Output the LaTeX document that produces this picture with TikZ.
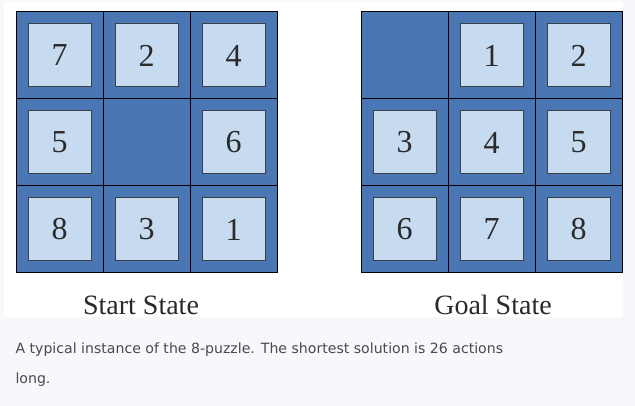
\documentclass[tikz,border=0pt]{standalone}
\usepackage{fontspec}
\setmainfont{Liberation Serif}
\newfontfamily\capfont{DejaVu Sans}
\definecolor{pagebg}{HTML}{F8F8FC}
\definecolor{cellblue}{HTML}{4A77B4}
\definecolor{tileblue}{HTML}{C7DBF0}
\definecolor{tileedge}{HTML}{3A3F48}
\definecolor{captext}{HTML}{4A4A4A}
\definecolor{digittext}{HTML}{2A2A2A}
\tikzset{
  cell/.style={draw=black, line width=1pt, fill=cellblue,
    minimum size=87pt, inner sep=0pt},
  tile/.style={draw=tileedge, line width=1pt, fill=tileblue,
    minimum size=63pt, inner sep=0pt, text=digittext,
    font=\fontsize{32}{32}\selectfont},
  statelbl/.style={anchor=base, text=digittext,
    font=\fontsize{28}{28}\selectfont},
  caption/.style={anchor=base west, text=captext,
    font=\capfont\fontsize{14.1}{16}\selectfont}
}
\begin{document}
\begin{tikzpicture}[x=1pt, y=-1pt]
  \fill[pagebg] (0,0) rectangle (635,406);
  \useasboundingbox (0,0) rectangle (635,406);
  \fill[white] (4,2) rectangle (623,317);
  % start state
  \draw
    (59.5,55.5) node[cell] (sc1){}
    (146.5,55.5) node[cell] (sc2){}
    (233.5,55.5) node[cell] (sc3){}
    (59.5,142.5) node[cell] (sc4){}
    (146.5,142.5) node[cell] (sc5){}
    (233.5,142.5) node[cell] (sc6){}
    (59.5,229.5) node[cell] (sc7){}
    (146.5,229.5) node[cell] (sc8){}
    (233.5,229.5) node[cell] (sc9){};
  \draw
    (sc1) node[tile] (s7){7}
    (sc2) node[tile] (s2){2}
    (sc3) node[tile] (s4){4}
    (sc4) node[tile] (s5){5}
    (sc6) node[tile] (s6){6}
    (sc7) node[tile] (s8){8}
    (sc8) node[tile] (s3){3}
    (sc9) node[tile] (s1){1};
  % goal state
  \draw
    (404.5,55.5) node[cell] (gc1){}
    (491.5,55.5) node[cell] (gc2){}
    (578.5,55.5) node[cell] (gc3){}
    (404.5,142.5) node[cell] (gc4){}
    (491.5,142.5) node[cell] (gc5){}
    (578.5,142.5) node[cell] (gc6){}
    (404.5,229.5) node[cell] (gc7){}
    (491.5,229.5) node[cell] (gc8){}
    (578.5,229.5) node[cell] (gc9){};
  \draw
    (gc2) node[tile] (g1){1}
    (gc3) node[tile] (g2){2}
    (gc4) node[tile] (g3){3}
    (gc5) node[tile] (g4){4}
    (gc6) node[tile] (g5){5}
    (gc7) node[tile] (g6){6}
    (gc8) node[tile] (g7){7}
    (gc9) node[tile] (g8){8};
  \node[statelbl] (startlbl) at (141,315) {Start State};
  \node[statelbl] (goallbl) at (493,315) {Goal State};
  \node[caption] (cap1) at (12,353)
    {A typical instance of the 8-puzzle. The shortest solution is 26 actions};
  \node[caption] (cap2) at (12,383) {long.};
\end{tikzpicture}
\end{document}
